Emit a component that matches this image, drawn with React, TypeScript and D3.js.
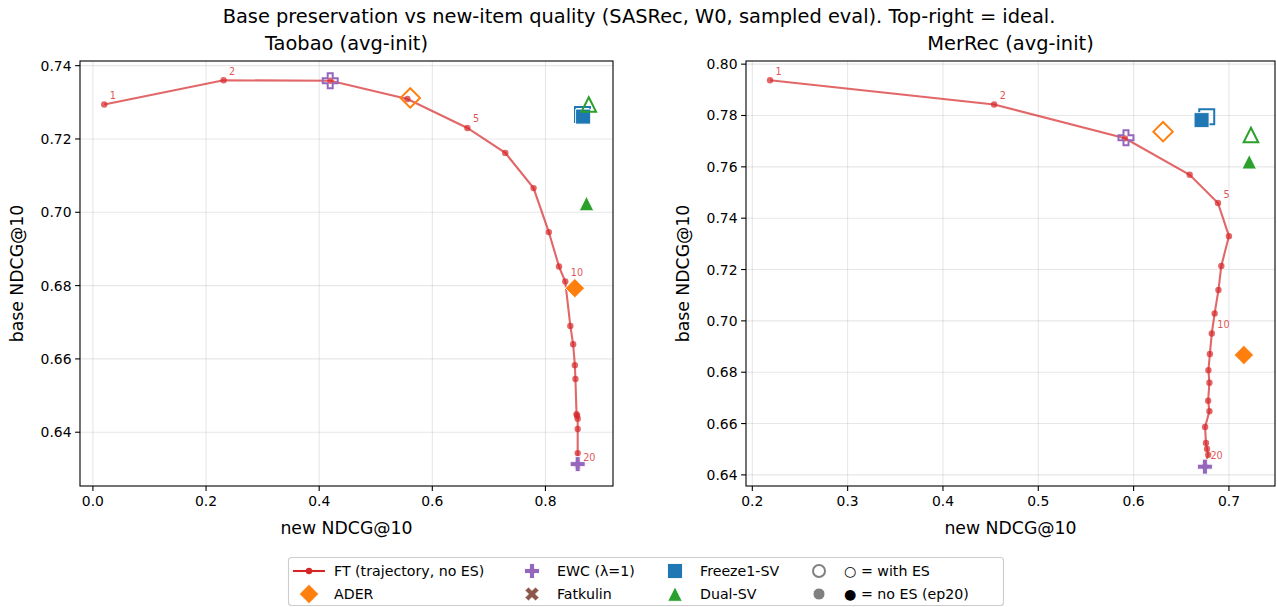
import React from 'react';
import * as d3 from 'd3';

const W = 1277;
const H = 607;
const FONT = 'DejaVu Sans, sans-serif';

// ---- Taobao (avg-init) ----
const tbFtNew = [0.020, 0.231, 0.420, 0.556, 0.662, 0.729, 0.779, 0.806, 0.824, 0.835, 0.844, 0.849, 0.852, 0.853, 0.855, 0.856, 0.857, 0.857, 0.857, 0.857];
const tbFtBase = [0.7294, 0.7360, 0.7359, 0.7309, 0.7230, 0.7162, 0.7066, 0.6946, 0.6852, 0.6811, 0.6690, 0.6640, 0.6583, 0.6545, 0.6449, 0.6445, 0.6437, 0.6409, 0.6343, 0.6306];
// methods: [with ES (new, base)], [no ES ep20 (new, base)]
const tbAderES = [0.561, 0.7312];
const tbAderNoES = [0.852, 0.6793];
const tbEwcES = [0.4195, 0.7359];
const tbEwcNoES = [0.857, 0.6313];
const tbFreezeES = [0.8655, 0.7267];
const tbFreezeNoES = [0.8665, 0.7261];
const tbDualES = [0.8766, 0.7294];
const tbDualNoES = [0.8726, 0.7024];

// ---- MerRec (avg-init) ----
const mrFtNew = [0.2186, 0.4537, 0.5909, 0.6588, 0.6885, 0.7000, 0.6920, 0.6890, 0.6850, 0.6820, 0.6800, 0.6785, 0.6795, 0.6782, 0.6795, 0.6750, 0.6759, 0.6770, 0.6782, 0.6748];
const mrFtBase = [0.7937, 0.7843, 0.7711, 0.7569, 0.7459, 0.7330, 0.7214, 0.7120, 0.7029, 0.6951, 0.6871, 0.6808, 0.6759, 0.6689, 0.6648, 0.6587, 0.6524, 0.6501, 0.6478, 0.6441];
const mrAderES = [0.6309, 0.7737];
const mrAderNoES = [0.7157, 0.6867];
const mrEwcES = [0.592, 0.7713];
const mrEwcNoES = [0.6748, 0.6432];
const mrFreezeES = [0.6767, 0.7795];
const mrFreezeNoES = [0.6713, 0.7782];
const mrDualES = [0.7231, 0.7724];
const mrDualNoES = [0.7213, 0.7620];

const annotated = [1, 2, 5, 10, 20];
const tbXTicks = [0.0, 0.2, 0.4, 0.6, 0.8];
const tbYTicks = [0.64, 0.66, 0.68, 0.70, 0.72, 0.74];
const mrXTicks = [0.2, 0.3, 0.4, 0.5, 0.6, 0.7];
const mrYTicks = [0.64, 0.66, 0.68, 0.70, 0.72, 0.74, 0.76, 0.78, 0.80];

const C = {
  red: '#d62728', orange: '#ff7f0e', purple: '#9467bd', brown: '#8c564b', blue: '#1f77b4', green: '#2ca02c', gray: '#808080',
};

type Shape = 'D' | 'P' | 'X' | 's' | '^' | 'o';

function markerPath(shape: Shape): string {
  switch (shape) {
    case 'D': { const r = 9.7; return `M0,${-r}L${r},0L0,${r}L${-r},0Z`; }
    case 'P': { const a = 2.5, b = 7.5; return `M${-a},${-b}H${a}V${-a}H${b}V${a}H${a}V${b}H${-a}V${a}H${-b}V${-a}H${-a}Z`; }
    case 'X': { const a = 2.5, b = 7.5; return `M${-a},${-b}H${a}V${-a}H${b}V${a}H${a}V${b}H${-a}V${a}H${-b}V${-a}H${-a}Z`; }
    case 's': { const r = 7.5; return `M${-r},${-r}H${r}V${r}H${-r}Z`; }
    case '^': { const r = 7.3; return `M0,${-r}L${r},${r}L${-r},${r}Z`; }
    default: { const r = 6; return `M${-r},0A${r},${r} 0 1,0 ${r},0A${r},${r} 0 1,0 ${-r},0Z`; }
  }
}

function Marker({ x, y, shape, color, open }: { x: number; y: number; shape: Shape; color: string; open: boolean }) {
  const rot = shape === 'X' ? ' rotate(45)' : '';
  return (
    <path
      d={markerPath(shape)}
      transform={`translate(${x},${y})${rot}`}
      fill={open ? 'none' : color}
      stroke={open ? color : '#ffffff'}
      strokeWidth={open ? 2 : 0.9}
      strokeLinejoin="miter"
    />
  );
}

interface PanelProps {
  title: string;
  left: number; right: number; top: number; bottom: number;
  ftNew: number[]; ftBase: number[];
  methods: { shape: Shape; color: string; es: number[]; noes: number[] }[];
  xTicks: number[]; yTicks: number[]; xFmt: string; yFmt: string;
}

function Panel(p: PanelProps) {
  const allX = [...p.ftNew, ...p.methods.flatMap((m) => [m.es[0], m.noes[0]])];
  const allY = [...p.ftBase, ...p.methods.flatMap((m) => [m.es[1], m.noes[1]])];
  const [x0, x1] = d3.extent(allX) as [number, number];
  const [y0, y1] = d3.extent(allY) as [number, number];
  const mx = (x1 - x0) * 0.05, my = (y1 - y0) * 0.05;
  const xs = d3.scaleLinear().domain([x0 - mx, x1 + mx]).range([p.left, p.right]);
  const ys = d3.scaleLinear().domain([y0 - my, y1 + my]).range([p.bottom, p.top]);
  const xf = d3.format(p.xFmt), yf = d3.format(p.yFmt);
  const pts = p.ftNew.map((v, i) => [xs(v), ys(p.ftBase[i])] as [number, number]);
  const line = d3.line()(pts) || '';
  const cx = (p.left + p.right) / 2;
  const cy = (p.top + p.bottom) / 2;
  return (
    <g>
      {/* grid */}
      {p.xTicks.map((t) => (
        <line key={'gx' + t} x1={xs(t)} x2={xs(t)} y1={p.top} y2={p.bottom} stroke="#b0b0b0" strokeOpacity={0.3} strokeWidth={1.1} />
      ))}
      {p.yTicks.map((t) => (
        <line key={'gy' + t} x1={p.left} x2={p.right} y1={ys(t)} y2={ys(t)} stroke="#b0b0b0" strokeOpacity={0.3} strokeWidth={1.1} />
      ))}
      {/* trajectory */}
      <path d={line} fill="none" stroke={C.red} strokeOpacity={0.7} strokeWidth={2.1} />
      {pts.map((q, i) => (
        <circle key={'pt' + i} cx={q[0]} cy={q[1]} r={3.2} fill={C.red} fillOpacity={0.7} />
      ))}
      {annotated.map((k) => (
        <text key={'an' + k} x={pts[k - 1][0] + 5.5} y={pts[k - 1][1] - 5.5} fontSize={9.7} fill={C.red} fillOpacity={0.8} fontFamily={FONT}>{k}</text>
      ))}
      {/* methods */}
      {p.methods.map((m, i) => (
        <g key={'m' + i}>
          <Marker x={xs(m.es[0])} y={ys(m.es[1])} shape={m.shape} color={m.color} open />
          <Marker x={xs(m.noes[0])} y={ys(m.noes[1])} shape={m.shape} color={m.color} open={false} />
        </g>
      ))}
      {/* spines */}
      <rect x={p.left} y={p.top} width={p.right - p.left} height={p.bottom - p.top} fill="none" stroke="#000" strokeWidth={1.1} />
      {/* ticks */}
      {p.xTicks.map((t) => (
        <g key={'tx' + t}>
          <line x1={xs(t)} x2={xs(t)} y1={p.bottom} y2={p.bottom + 4.9} stroke="#000" strokeWidth={1.1} />
          <text x={xs(t)} y={p.bottom + 19.5} textAnchor="middle" fontSize={13.9} fontFamily={FONT}>{xf(t)}</text>
        </g>
      ))}
      {p.yTicks.map((t) => (
        <g key={'ty' + t}>
          <line x1={p.left - 4.9} x2={p.left} y1={ys(t)} y2={ys(t)} stroke="#000" strokeWidth={1.1} />
          <text x={p.left - 8.5} y={ys(t) + 5} textAnchor="end" fontSize={13.9} fontFamily={FONT}>{yf(t)}</text>
        </g>
      ))}
      {/* labels */}
      <text x={cx} y={p.bottom + 48} textAnchor="middle" fontSize={17.3} fontFamily={FONT}>new NDCG@10</text>
      <text transform={`translate(${p.left - 57},${cy}) rotate(-90)`} textAnchor="middle" fontSize={17.3} fontFamily={FONT}>base NDCG@10</text>
      <text x={cx} y={p.top - 11} textAnchor="middle" fontSize={19.4} fontFamily={FONT}>{p.title}</text>
    </g>
  );
}

const legendItems: { label: string; shape: Shape | 'line'; color: string; open?: boolean; col: number; row: number }[] = [
  { label: 'FT (trajectory, no ES)', shape: 'line', color: C.red, col: 0, row: 0 },
  { label: 'ADER', shape: 'D', color: C.orange, col: 0, row: 1 },
  { label: 'EWC (λ=1)', shape: 'P', color: C.purple, col: 1, row: 0 },
  { label: 'Fatkulin', shape: 'X', color: C.brown, col: 1, row: 1 },
  { label: 'Freeze1-SV', shape: 's', color: C.blue, col: 2, row: 0 },
  { label: 'Dual-SV', shape: '^', color: C.green, col: 2, row: 1 },
  { label: '○ = with ES', shape: 'o', color: C.gray, open: true, col: 3, row: 0 },
  { label: '● = no ES (ep20)', shape: 'o', color: C.gray, open: false, col: 3, row: 1 },
];

function Legend() {
  const colX = [309, 532, 675, 819];
  const rowY = [571, 594];
  return (
    <g>
      <rect x={288.5} y={557.5} width={715} height={48} rx={3} fill="#fff" fillOpacity={0.8} stroke="#cccccc" strokeWidth={1.1} />
      {legendItems.map((it, i) => {
        const mx = colX[it.col];
        const my = rowY[it.row];
        return (
          <g key={'lg' + i}>
            {it.shape === 'line' ? (
              <g>
                <line x1={mx - 16} x2={mx + 16} y1={my} y2={my} stroke={C.red} strokeWidth={2.1} />
                <circle cx={mx} cy={my} r={3.2} fill={C.red} />
              </g>
            ) : (
              <Marker x={mx} y={my} shape={it.shape} color={it.color} open={!!it.open} />
            )}
            <text x={mx + 25} y={my + 5} fontSize={14.2} fontFamily={FONT}>{it.label}</text>
          </g>
        );
      })}
    </g>
  );
}

export default function App() {
  const common = { top: 61, bottom: 486 };
  return (
    <svg width={W} height={H} style={{ position: 'absolute', left: 0, top: 0, background: '#fff' }}>
      <rect x={0} y={0} width={W} height={H} fill="#fff" />
      <text x={639} y={23} textAnchor="middle" fontSize={19.4} fontFamily={FONT}>
        Base preservation vs new-item quality (SASRec, W0, sampled eval). Top-right = ideal.
      </text>
      <Panel
        title="Taobao (avg-init)"
        left={80} right={613} {...common}
        ftNew={tbFtNew} ftBase={tbFtBase}
        methods={[
          { shape: 'D', color: C.orange, es: tbAderES, noes: tbAderNoES },
          { shape: 'P', color: C.purple, es: tbEwcES, noes: tbEwcNoES },
          { shape: 's', color: C.blue, es: tbFreezeES, noes: tbFreezeNoES },
          { shape: '^', color: C.green, es: tbDualES, noes: tbDualNoES },
        ]}
        xTicks={tbXTicks} yTicks={tbYTicks} xFmt=".1f" yFmt=".2f"
      />
      <Panel
        title="MerRec (avg-init)"
        left={746} right={1275} {...common}
        ftNew={mrFtNew} ftBase={mrFtBase}
        methods={[
          { shape: 'D', color: C.orange, es: mrAderES, noes: mrAderNoES },
          { shape: 'P', color: C.purple, es: mrEwcES, noes: mrEwcNoES },
          { shape: 's', color: C.blue, es: mrFreezeES, noes: mrFreezeNoES },
          { shape: '^', color: C.green, es: mrDualES, noes: mrDualNoES },
        ]}
        xTicks={mrXTicks} yTicks={mrYTicks} xFmt=".1f" yFmt=".2f"
      />
      <Legend />
    </svg>
  );
}
